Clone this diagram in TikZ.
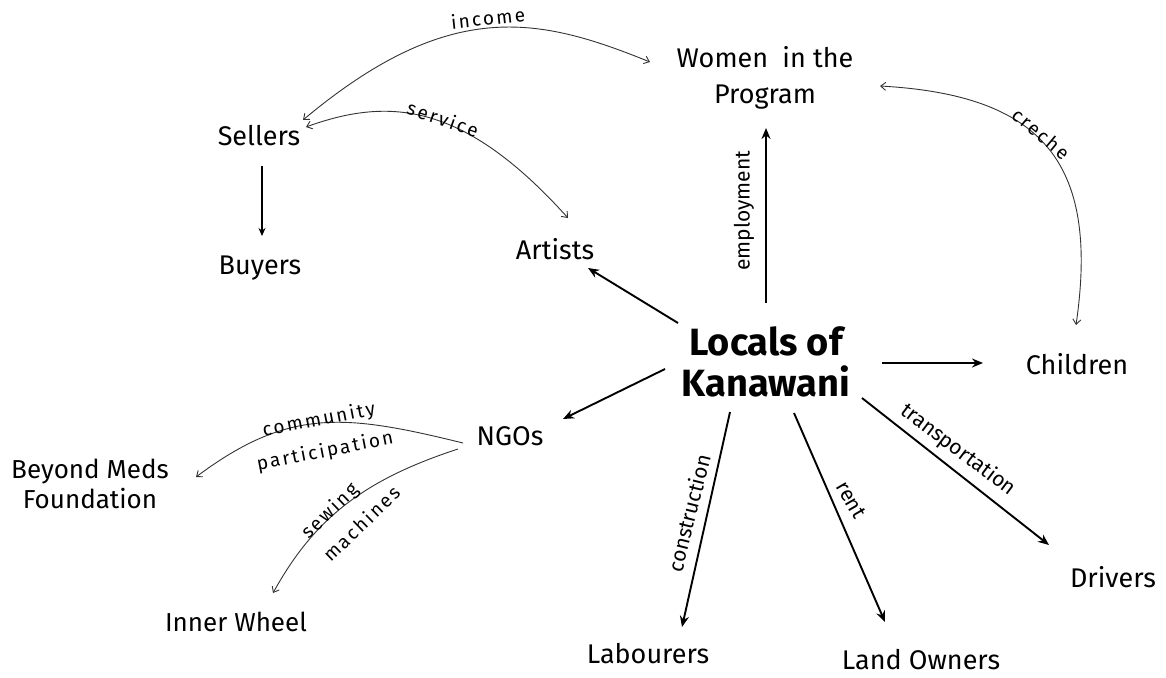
\documentclass[tikz,border=0pt]{standalone}
\usepackage{fontspec}
\setmainfont{Fira Sans}
\newfontfamily\spaced[LetterSpace=12]{Fira Sans}
\usetikzlibrary{arrows.meta,calc}
\begin{document}
\begin{tikzpicture}[x=1pt,y=1pt,
  lbl/.style={font=\fontsize{27}{36}\selectfont, align=center, inner sep=0pt},
  tag/.style={font=\fontsize{21}{24}\selectfont, align=center, inner sep=0pt},
  ctag/.style={font=\spaced\fontsize{19}{22}\selectfont, align=center, inner sep=0pt},
  strong/.style={-{Stealth[length=11pt,width=9pt]}, line width=1.9pt},
  medium/.style={-{Stealth[length=8pt,width=7pt]}, line width=1.1pt},
  soft/.style={{Straight Barb[length=5pt,width=8pt]}-{Straight Barb[length=5pt,width=8pt]}, line width=0.9pt, black!80},
  softend/.style={-{Straight Barb[length=5pt,width=8pt]}, line width=0.9pt, black!80}]
\useasboundingbox (0,0) rectangle (1166,-677);

% nodes
\node[lbl] (women) at (765,-78) {Women\ \ in the\\Program};
\node[lbl] (sellers) at (259,-136) {Sellers};
\node[lbl] (buyers) at (260,-268) {Buyers};
\node[lbl] (artists) at (555,-249) {Artists};
\node[lbl, font=\bfseries\fontsize{38}{41}\selectfont] (locals) at (766,-362) {Locals of\\Kanawani};
\node[lbl] (children) at (1077,-364) {Children};
\node[lbl] (ngos) at (510,-436) {NGOs};
\node[lbl, font=\fontsize{26}{30}\selectfont] (beyond) at (90,-484) {Beyond Meds\\Foundation};
\node[lbl, font=\fontsize{26}{30}\selectfont] (inner) at (236,-622) {Inner Wheel};
\node[lbl] (labourers) at (648,-654) {Labourers};
\node[lbl] (owners) at (921,-660) {Land Owners};
\node[lbl] (drivers) at (1113,-577) {Drivers};

% straight connectors
\draw[strong] ($(locals)+(0,59)$) -- ($(women)+(1,-50)$);
\draw[strong] ($(locals)+(-88,39)$) -- ($(artists)+(33,-19)$);
\draw[strong] ($(locals)+(116,-1)$) -- ($(children)+(-94,1)$);
\draw[strong] ($(locals)+(-101,-7)$) -- ($(ngos)+(53,17)$);
\draw[strong] ($(locals)+(-36,-50)$) -- ($(labourers)+(34,27)$);
\draw[strong] ($(locals)+(28,-51)$) -- ($(owners)+(-36,38)$);
\draw[strong] ($(locals)+(96,-36)$) -- ($(drivers)+(-64,32)$);
\draw[medium] ($(sellers)+(3,-30)$) -- ($(buyers)+(2,32)$);

% curved connectors
\draw[soft] ($(sellers)+(44,16)$) .. controls +(147,123) and +(-111,45) .. ($(women)+(-115,16)$);
\draw[soft] ($(sellers)+(47,9)$) .. controls +(84.5,30.7) and +(-103.2,114.6) .. ($(artists)+(13,31)$);
\draw[soft] ($(women)+(115,-8)$) .. controls +(160,-9) and +(24,165) .. ($(children)+(-1,39)$);
\draw[softend] ($(ngos)+(-47,-7)$) .. controls +(-118,29) and +(93,69.5) .. ($(beyond)+(106,7)$);
\draw[softend] ($(ngos)+(-52,-13)$) .. controls +(-95,-31) and +(41,74) .. ($(inner)+(37,29)$);

% labels
\node[ctag, rotate=6] (lincome) at (488,-18) {income};
\node[ctag, rotate=-19] (lservice) at (443,-119) {service};
\node[ctag, rotate=-40] (lcreche) at (1041,-134) {creche};
\node[tag, rotate=90] (lemploy) at (744,-211) {employment};
\node[tag, rotate=76] (lconstr) at (689,-513) {construction};
\node[tag, rotate=-60] (lrent) at (851,-500) {rent};
\node[tag, rotate=-37] (ltrans) at (958,-450) {transportation};
\node[ctag, rotate=11, font=\spaced\fontsize{19}{32}\selectfont] (lcomm) at (322,-436) {community\\participation};
\node[ctag, rotate=44, align=left, font=\spaced\fontsize{19}{32}\selectfont] (lsew) at (350,-512) {sewing\\machines};
\end{tikzpicture}
\end{document}
